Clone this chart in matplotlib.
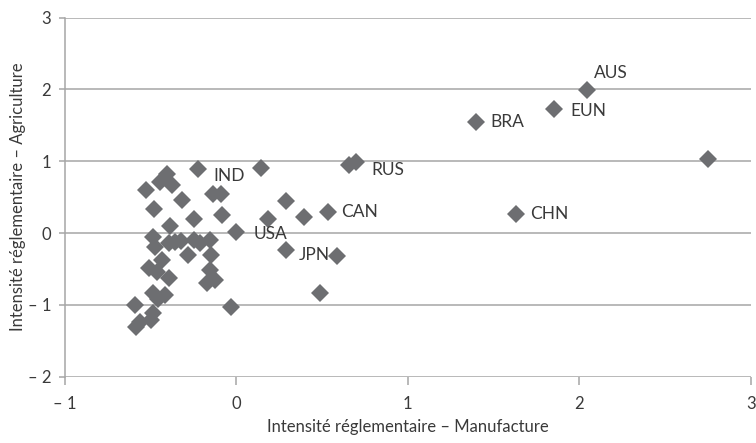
import matplotlib
matplotlib.use("Agg")
import matplotlib.pyplot as plt

plt.rcParams['font.family'] = ['Lato', 'DejaVu Sans']

# Unlabelled countries
manuf = [-0.405, -0.448, -0.376, -0.526, -0.32, -0.136, -0.09, -0.48, -0.084, -0.25,
         -0.39, -0.484, -0.474, -0.396, -0.357, -0.323, -0.25, -0.21, -0.156, -0.28,
         -0.148, -0.435, -0.51, -0.464, -0.396, -0.156, -0.123, -0.17, -0.487, -0.415,
         -0.46, -0.59, -0.03, -0.484, -0.50, -0.56, -0.585,
         0.144, 0.657, 0.292, 0.183, 0.394, 0.585, 0.487, 2.75]
agri = [0.82, 0.716, 0.67, 0.60, 0.46, 0.54, 0.54, 0.34, 0.25, 0.195,
        0.098, -0.06, -0.19, -0.14, -0.12, -0.11, -0.10, -0.135, -0.10, -0.31,
        -0.31, -0.37, -0.49, -0.55, -0.63, -0.51, -0.66, -0.70, -0.84, -0.865,
        -0.925, -1.0, -1.03, -1.12, -1.21, -1.24, -1.31,
        0.90, 0.95, 0.446, 0.195, 0.228, -0.32, -0.83, 1.03]

# Labelled countries
lab_names = ["AUS", "EUN", "BRA", "CHN", "RUS", "CAN", "USA", "JPN", "IND"]
lab_manuf = [2.047, 1.855, 1.398, 1.63, 0.70, 0.534, 0.0, 0.292, -0.226]
lab_agri = [1.99, 1.73, 1.55, 0.265, 0.995, 0.297, 0.02, -0.23, 0.89]
# text offsets in pixels (dx, dy)
lab_off = [(7, 17), (16, -2), (14, 0), (14, 0), (15, -8), (13, 0), (17, -2), (12, -5), (16, -7)]

x_ticks = [-1, 0, 1, 2, 3]
x_ticklabels = ["– 1", "0", "1", "2", "3"]
y_ticks = [-2, -1, 0, 1, 2, 3]
y_ticklabels = ["– 2", "– 1", "0", "1", "2", "3"]

grid_c = "#a6a6a6"
mark_c = "#6d6e71"
text_c = "#3a3a3a"

fig = plt.figure(figsize=(7.56, 4.43), dpi=100)
ax = fig.add_axes([0.086, 0.150, 0.907, 0.810])

ax.set_xlim(-1, 3)
ax.set_ylim(-2, 3)
ax.set_yticks(y_ticks)
ax.set_yticklabels(y_ticklabels)
ax.set_xticks(x_ticks)
ax.set_xticklabels(x_ticklabels)

for y in y_ticks:
    ax.axhline(y, color=grid_c, lw=1.1, zorder=1)

for s in ["top", "right", "bottom"]:
    ax.spines[s].set_visible(False)
ax.spines["left"].set_color(grid_c)
ax.spines["left"].set_linewidth(1.1)

ax.tick_params(axis="y", length=4, width=1.1, color=grid_c, pad=6,
               labelsize=12, labelcolor=text_c)
ax.tick_params(axis="x", length=6, width=1.1, color=grid_c, pad=8,
               labelsize=12, labelcolor=text_c)

ax.plot(manuf, agri, linestyle="none", marker="D", markersize=9.5,
        color=mark_c, markeredgewidth=0, zorder=3, clip_on=False)
ax.plot(lab_manuf, lab_agri, linestyle="none", marker="D", markersize=9.5,
        color=mark_c, markeredgewidth=0, zorder=3, clip_on=False)

for name, xv, yv, (dx, dy) in zip(lab_names, lab_manuf, lab_agri, lab_off):
    ax.annotate(name, (xv, yv), xytext=(dx * 0.72, dy * 0.72),
                textcoords="offset points", ha="left", va="center",
                fontsize=12.5, color=text_c, zorder=4)

ax.set_xlabel("Intensité réglementaire – Manufacture", fontsize=12,
              color=text_c, labelpad=5)
ax.set_ylabel("Intensité réglementaire – Agriculture", fontsize=12,
              color=text_c, labelpad=1)

fig.savefig("out.png", dpi=100)
